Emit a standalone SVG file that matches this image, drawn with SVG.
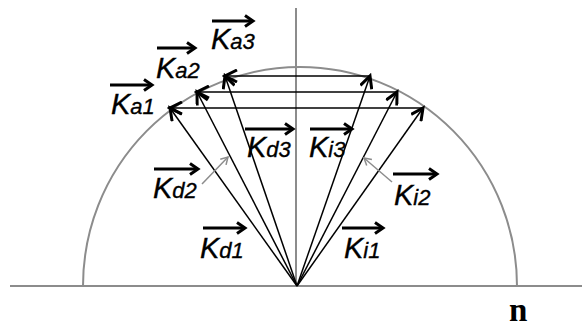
<svg xmlns="http://www.w3.org/2000/svg" width="582" height="327" viewBox="0 0 582 327">
<defs>
<style>
.axis{stroke:#8c8c8c;stroke-width:2;fill:none}
.vec{stroke:#000;stroke-width:1.5;fill:none;marker-end:url(#ah)}
.ov{stroke:#000;stroke-width:3;fill:none;marker-end:url(#oh)}
.ptr{stroke:#8c8c8c;stroke-width:1.5;fill:none;marker-end:url(#ph)}
text{font-family:"Liberation Sans",Arial,sans-serif;font-style:italic;fill:#000;stroke:#000;stroke-width:0.35}
.k{font-size:29px}
.s{font-size:22px}
.n{font-family:"Liberation Serif","Times New Roman",serif;font-style:normal;font-weight:bold;font-size:33px;stroke:none}
</style>
<marker id="ah" markerUnits="userSpaceOnUse" viewBox="0 0 16 14" markerWidth="16" markerHeight="14" refX="13" refY="7" orient="auto">
<path d="M1,1 L13,7 L1,13" fill="none" stroke="#000" stroke-width="3"/>
</marker>
<marker id="oh" markerUnits="userSpaceOnUse" viewBox="0 0 12 14" markerWidth="12" markerHeight="14" refX="9" refY="7" orient="auto">
<path d="M1,1.5 L9,7 L1,12.5" fill="none" stroke="#000" stroke-width="3"/>
</marker>
<marker id="ph" markerUnits="userSpaceOnUse" viewBox="0 0 10 10" markerWidth="10" markerHeight="10" refX="8" refY="5" orient="auto">
<path d="M1,1 L8,5 L1,9" fill="none" stroke="#8c8c8c" stroke-width="1.5"/>
</marker>
</defs>
<rect width="582" height="327" fill="#fff"/>
<g id="axes">
<line class="axis" x1="10" y1="286" x2="582" y2="286"/>
<line class="axis" x1="296" y1="8" x2="296" y2="286"/>
<path class="axis" d="M83,286 A217,219 0 0 1 517,286"/>
</g>
<g id="connectors">
<line class="vec" x1="297" y1="286" x2="170" y2="108"/>
<line class="vec" x1="297" y1="286" x2="197" y2="92"/>
<line class="vec" x1="297" y1="286" x2="225" y2="76"/>
<line class="vec" x1="297" y1="286" x2="423" y2="108"/>
<line class="vec" x1="297" y1="286" x2="397" y2="92"/>
<line class="vec" x1="297" y1="286" x2="370" y2="76"/>
<line class="vec" x1="423" y1="108" x2="170" y2="108"/>
<line class="vec" x1="397" y1="92" x2="197" y2="92"/>
<line class="vec" x1="370" y1="76" x2="225" y2="76"/>
<line class="ptr" x1="202" y1="184" x2="228" y2="157"/>
<line class="ptr" x1="392" y1="182" x2="364" y2="158"/>
</g>
<g id="Ka1"><line class="ov" x1="110" y1="85" x2="152" y2="85"/><text x="111" y="114"><tspan class="k">K</tspan><tspan class="s">a1</tspan></text></g>
<g id="Ka2"><line class="ov" x1="157" y1="48" x2="195" y2="48"/><text x="156" y="78"><tspan class="k">K</tspan><tspan class="s">a2</tspan></text></g>
<g id="Ka3"><line class="ov" x1="212" y1="21" x2="253" y2="21"/><text x="211" y="49"><tspan class="k">K</tspan><tspan class="s">a3</tspan></text></g>
<g id="Kd3"><line class="ov" x1="245" y1="129" x2="293" y2="129"/><text x="247" y="157"><tspan class="k">K</tspan><tspan class="s">d3</tspan></text></g>
<g id="Ki3"><line class="ov" x1="310" y1="129" x2="352" y2="129"/><text x="309" y="157"><tspan class="k">K</tspan><tspan class="s">i3</tspan></text></g>
<g id="Kd2"><line class="ov" x1="154" y1="169" x2="198" y2="169"/><text x="153" y="198"><tspan class="k">K</tspan><tspan class="s">d2</tspan></text></g>
<g id="Ki2"><line class="ov" x1="393" y1="174" x2="437" y2="174"/><text x="394" y="205"><tspan class="k">K</tspan><tspan class="s">i2</tspan></text></g>
<g id="Kd1"><line class="ov" x1="203" y1="228" x2="245" y2="228"/><text x="200" y="258"><tspan class="k">K</tspan><tspan class="s">d1</tspan></text></g>
<g id="Ki1"><line class="ov" x1="342" y1="228" x2="383" y2="228"/><text x="344" y="258"><tspan class="k">K</tspan><tspan class="s">i1</tspan></text></g>
<g id="n"><text class="n" x="509" y="321">n</text></g>
</svg>
